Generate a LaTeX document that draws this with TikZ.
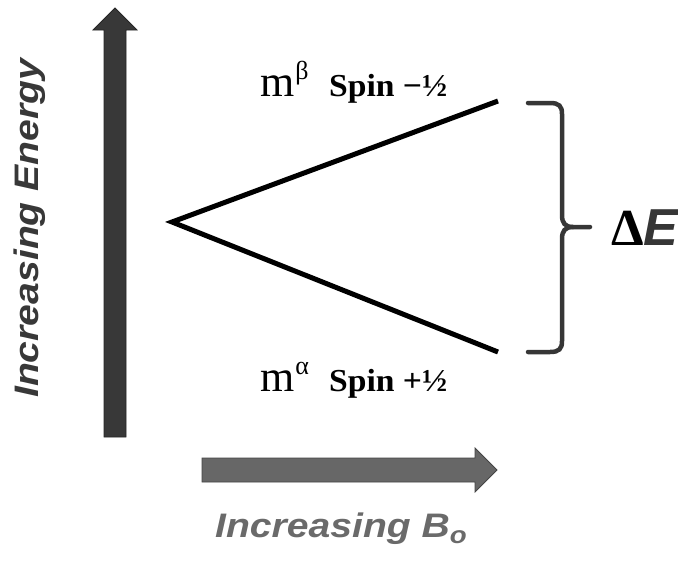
\documentclass[tikz,border=0pt]{standalone}
\usepackage{fontspec}
\setmainfont{Liberation Serif}
\newfontfamily\axisfont{Liberation Sans}
\definecolor{darkarrow}{HTML}{383838}
\definecolor{darkedge}{HTML}{262626}
\definecolor{grayarrow}{HTML}{676767}
\definecolor{grayedge}{HTML}{444444}
\definecolor{bracecol}{HTML}{363636}
\definecolor{labelgray}{HTML}{6A6A6A}
\begin{document}
\begin{tikzpicture}[x=1pt,y=-1pt,
  level/.style={line width=5pt, black, line join=miter},
  bracestyle/.style={line width=4.5pt, bracecol, line cap=round},
  mlbl/.style={anchor=base west, inner sep=0pt},
  spinlbl/.style={anchor=base west, inner sep=0pt, xscale=1.05},
  axislbl/.style={anchor=base west, inner sep=0pt, font=\axisfont\bfseries\itshape\fontsize{34}{40}\selectfont}]
\useasboundingbox (0,0) rectangle (678,574);
% vertical arrow
\path[fill=darkarrow, draw=darkedge, line width=0.8pt]
  (104,437) -- (104,30) -- (93,30) -- (115,8) -- (137,30) -- (126,30) -- (126,437) -- cycle;
% horizontal arrow
\path[fill=grayarrow, draw=grayedge, line width=0.8pt]
  (202,458) -- (475,458) -- (475,448) -- (497,470) -- (475,492) -- (475,482) -- (202,482) -- cycle;
% energy levels
\coordinate (apex) at (172,222);
\coordinate (up) at (498,101);
\coordinate (lo) at (498,352);
\draw[level] (up) -- (apex) -- (lo);
% brace
\coordinate (btop) at (528,103);
\coordinate (bbot) at (528,352);
\coordinate (btip) at (590,227);
\draw[bracestyle] (btop) -- (550,103) .. controls (559,103) and (562,106) .. (562,114) -- (562,215)
  .. controls (562,223) and (565,227) .. (573,227) -- (btip);
\draw[bracestyle] (bbot) -- (550,352) .. controls (559,352) and (562,349) .. (562,341) -- (562,239)
  .. controls (562,231) and (565,227) .. (573,227);
% labels
\node[mlbl] (mb) at (260,96) {\fontsize{44}{48}\selectfont m\kern1pt\raisebox{0.38em}{\fontsize{26}{30}\selectfont β}};
\node[spinlbl] (sb) at (329,96) {\fontsize{32}{36}\selectfont\bfseries Spin −½};
\node[mlbl] (ma) at (260,391) {\fontsize{44}{48}\selectfont m\kern1pt\raisebox{0.38em}{\fontsize{26}{30}\selectfont α}};
\node[spinlbl] (sa) at (329,391) {\fontsize{32}{36}\selectfont\bfseries Spin +½};
\node[anchor=base west, inner sep=0pt] (de) at (611,245) {\fontsize{52}{60}\selectfont\bfseries Δ\textcolor{bracecol}{\axisfont\itshape E}};
\node[axislbl, text=labelgray, xscale=1.15] (bo) at (215,537) {Increasing B\raisebox{-0.2em}{\fontsize{24}{28}\selectfont o}};
\node[axislbl, text=darkarrow, rotate=90, xscale=1.15] (en) at (38,398) {Increasing Energy};
\end{tikzpicture}
\end{document}
